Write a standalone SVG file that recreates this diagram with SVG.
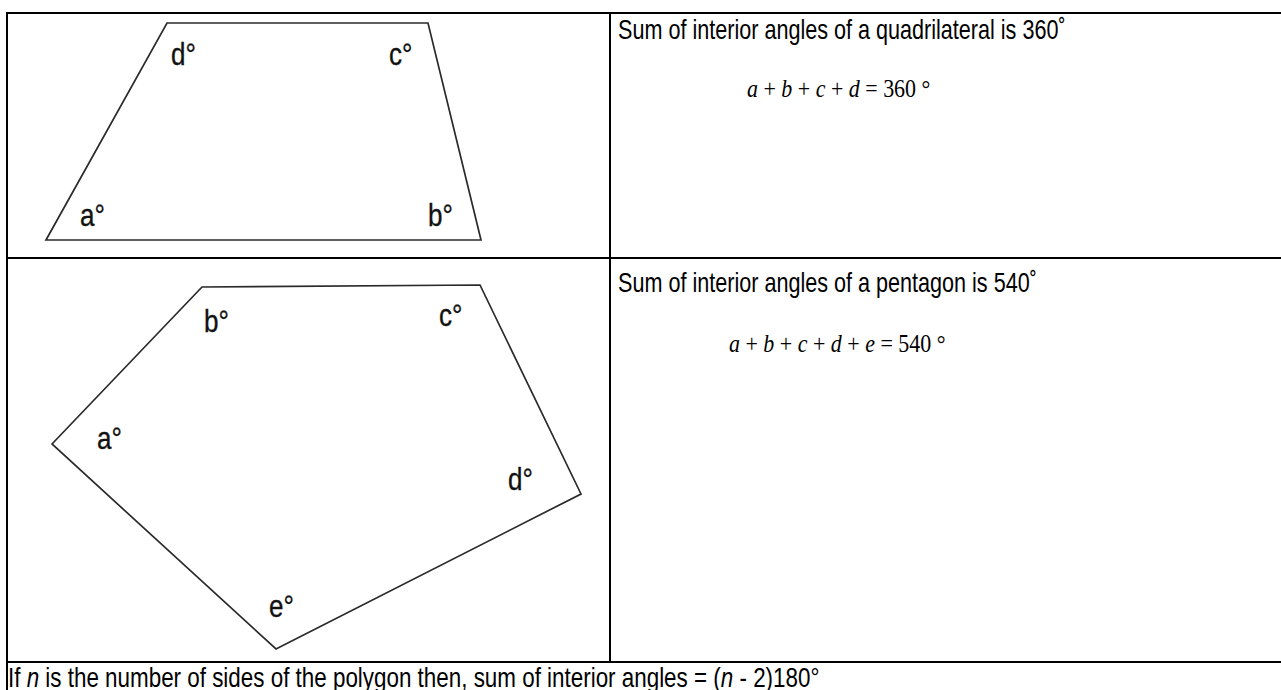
<svg xmlns="http://www.w3.org/2000/svg" width="1281" height="690" viewBox="0 0 1281 690">
<style>
.grid{stroke:#000;stroke-width:2;fill:none}
.shape{stroke:#2a2a2a;stroke-width:1.7;fill:none;stroke-linejoin:miter}
.lbl{font-family:"Liberation Sans",Arial,sans-serif;font-size:31px;fill:#111;stroke:#111;stroke-width:0.35}
.txt{font-family:"Liberation Sans",Arial,sans-serif;font-size:27px;fill:#000}
.eq{font-family:"Liberation Serif","Times New Roman",serif;font-size:26px;fill:#000}
.it{font-style:italic}
</style>
<rect width="1281" height="690" fill="#fff"/>
<g id="table">
<line class="grid" x1="6" y1="13" x2="1281" y2="13"/>
<line class="grid" x1="7" y1="12" x2="7" y2="690"/>
<line class="grid" x1="6" y1="258" x2="1281" y2="258"/>
<line class="grid" x1="6" y1="662" x2="1281" y2="662"/>
<line class="grid" x1="610" y1="12" x2="610" y2="662"/>
</g>
<g id="quadrilateral">
<polygon class="shape" points="167,23 428,23 481,240 46,240"/>
<text class="lbl" transform="translate(171,65) scale(0.84,1)">d°</text>
<text class="lbl" transform="translate(389,65) scale(0.84,1)">c°</text>
<text class="lbl" transform="translate(80,226) scale(0.84,1)">a°</text>
<text class="lbl" transform="translate(428,226) scale(0.84,1)">b°</text>
</g>
<g id="quad-text">
<text class="txt" transform="translate(618,39) scale(0.8,1)">Sum of interior angles of a quadrilateral is 360˚</text>
<text class="eq" transform="translate(747,97) scale(0.845,1)"><tspan class="it">a</tspan> + <tspan class="it">b</tspan> + <tspan class="it">c</tspan> + <tspan class="it">d</tspan> = 360 °</text>
</g>
<g id="pentagon">
<polygon class="shape" points="52,444 202,287 480,285 581,494 276,649"/>
<text class="lbl" transform="translate(204,332) scale(0.84,1)">b°</text>
<text class="lbl" transform="translate(439,326) scale(0.84,1)">c°</text>
<text class="lbl" transform="translate(97,449) scale(0.84,1)">a°</text>
<text class="lbl" transform="translate(508,490) scale(0.84,1)">d°</text>
<text class="lbl" transform="translate(269,617) scale(0.84,1)">e°</text>
</g>
<g id="pent-text">
<text class="txt" transform="translate(618,292) scale(0.8,1)">Sum of interior angles of a pentagon is 540˚</text>
<text class="eq" transform="translate(729,352) scale(0.845,1)"><tspan class="it">a</tspan> + <tspan class="it">b</tspan> + <tspan class="it">c</tspan> + <tspan class="it">d</tspan> + <tspan class="it">e</tspan> = 540 °</text>
</g>
<g id="formula">
<text class="txt" transform="translate(8,687) scale(0.83,1)">If <tspan class="it">n</tspan> is the number of sides of the polygon then, sum of interior angles = (<tspan class="it">n</tspan> - 2)180°</text>
</g>
</svg>
